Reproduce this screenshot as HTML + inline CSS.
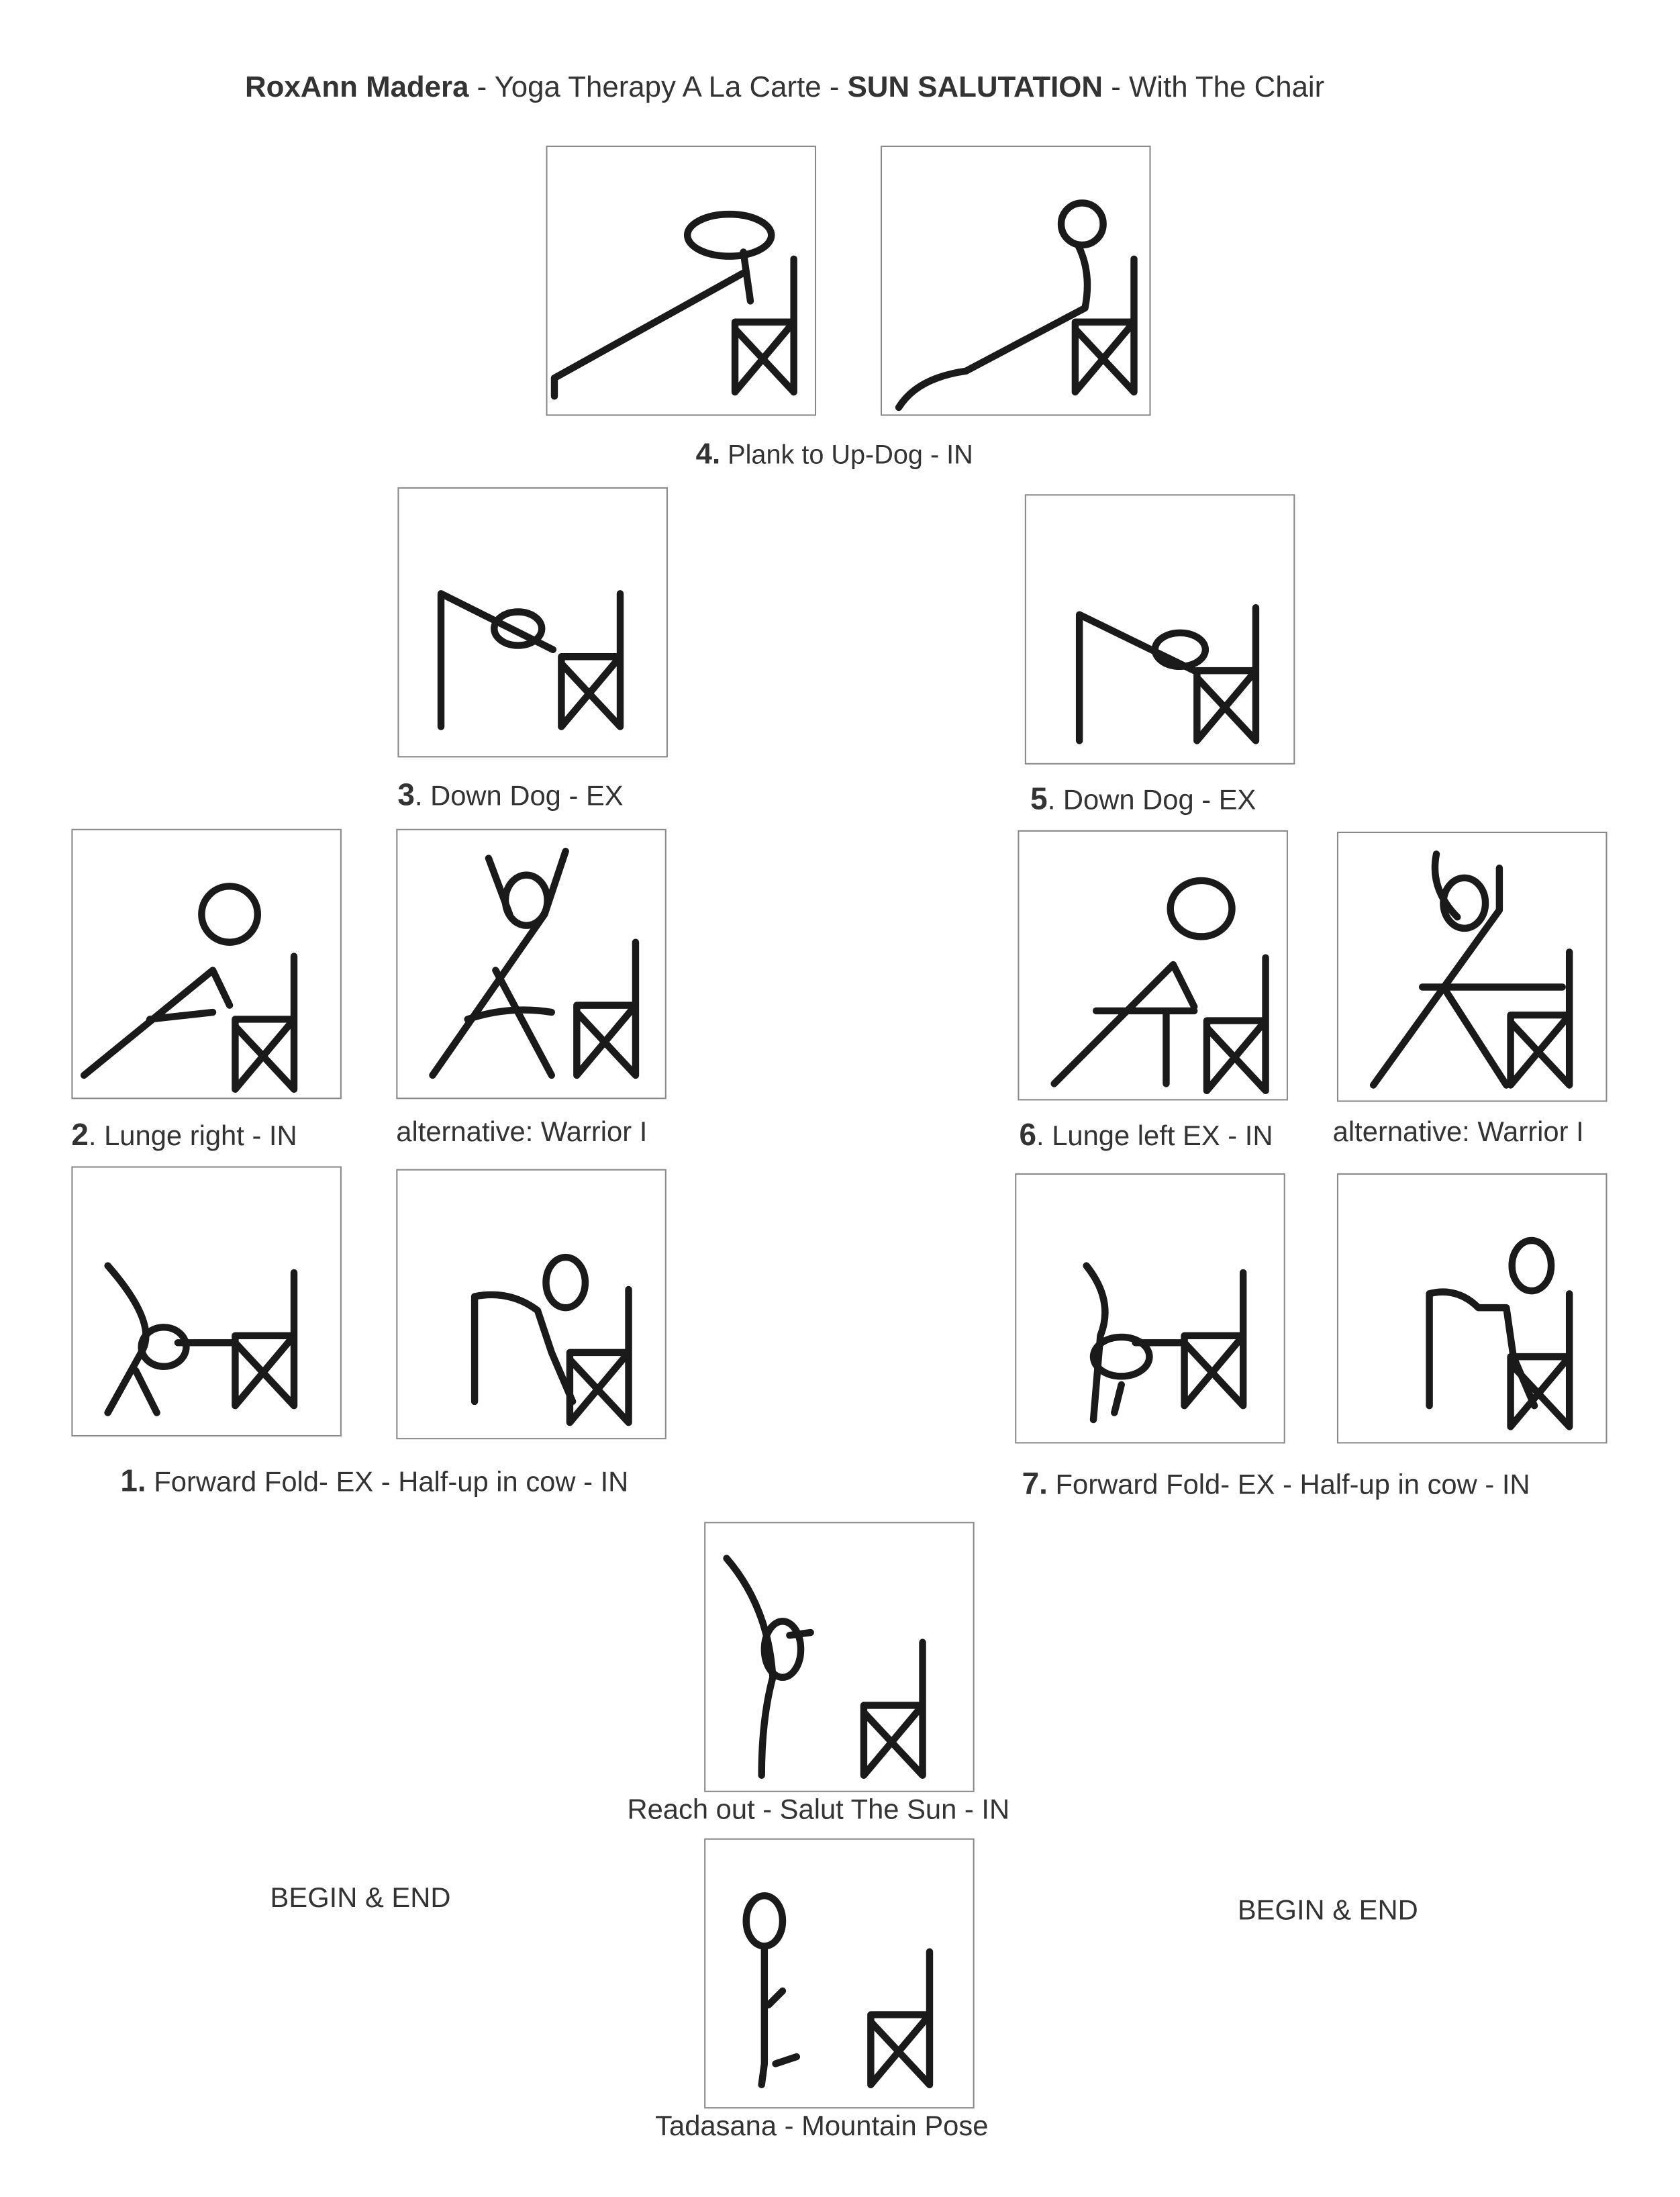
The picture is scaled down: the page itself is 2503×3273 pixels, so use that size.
<!DOCTYPE html>
<html><head><meta charset="utf-8"><style>
html,body{margin:0;padding:0;background:#fff;}
#w{width:1200px;height:1569px;position:relative;transform:scale(2.0858);transform-origin:0 0;font-family:"Liberation Sans",Arial,sans-serif;color:#333;}
.b{position:absolute;width:193px;height:193px;border:1.5px solid #8a8a8a;box-sizing:border-box;}
.b svg{width:100%;height:100%;}
.l{position:absolute;font-size:20px;white-space:nowrap;color:#333;}
.l b{font-weight:bold;font-size:22px;}
svg path,svg line,svg ellipse,svg circle{fill:none;stroke:#1a1a1a;stroke-width:5;stroke-linecap:round;stroke-linejoin:round;}
</style></head><body><div id="w">
<svg width="0" height="0" style="position:absolute"><defs>
<g id="ch"><path d="M0 0 V95 M-42 45 H0 M-42 45 V95 M-42 95 L0 45 M-42 50 L0 95"/></g>
</defs></svg>

<div class="l" style="left:175px;top:51px;font-size:21px"><b style="font-size:21px">RoxAnn Madera</b> - Yoga Therapy A La Carte - <b style="font-size:21px">SUN SALUTATION</b> - With The Chair</div>

<div class="b" style="left:390px;top:104px"><svg viewBox="0 0 191 191"><use href="#ch" x="176" y="80"/><ellipse cx="130" cy="63" rx="30" ry="15"/><path d="M5 178 V165 L140 90 M140 75 L145 110"/></svg></div>
<div class="b" style="left:629px;top:104px"><svg viewBox="0 0 191 191"><use href="#ch" x="180" y="80"/><circle cx="143" cy="55" r="15"/><path d="M12 186 Q25 165 60 160 L145 115 Q150 90 140 70"/></svg></div>
<div class="l" style="left:497px;top:313px;font-size:19px"><b style="font-size:21px">4.</b> Plank to Up-Dog - IN</div>

<div class="b" style="left:284px;top:348px"><svg viewBox="0 0 191 191"><use href="#ch" x="158" y="75"/><path d="M30 170 V75 L110 115"/><ellipse cx="85" cy="100" rx="17" ry="12"/></svg></div>
<div class="l" style="left:284px;top:555px"><b>3</b>. Down Dog - EX</div>
<div class="b" style="left:732px;top:353px"><svg viewBox="0 0 191 191"><use href="#ch" x="164" y="80"/><path d="M38 175 V85 L120 125"/><ellipse cx="110" cy="110" rx="18" ry="12"/></svg></div>
<div class="l" style="left:736px;top:558px"><b>5</b>. Down Dog - EX</div>

<div class="b" style="left:51px;top:592px"><svg viewBox="0 0 191 191"><use href="#ch" x="158" y="90"/><circle cx="112" cy="60" r="20"/><path d="M8 175 L100 100 L112 125 M55 135 L100 130"/></svg></div>
<div class="l" style="left:51px;top:798px"><b>2</b>. Lunge right - IN</div>
<div class="b" style="left:283px;top:592px"><svg viewBox="0 0 191 191"><use href="#ch" x="170" y="80"/><ellipse cx="92" cy="50" rx="15" ry="18"/><path d="M65 20 L80 60 M120 15 L105 60 L25 175 M70 100 L110 175 M50 135 Q80 125 110 130"/></svg></div>
<div class="l" style="left:283px;top:798px">alternative: Warrior I</div>
<div class="b" style="left:727px;top:593px"><svg viewBox="0 0 191 191"><use href="#ch" x="176" y="90"/><ellipse cx="130" cy="55" rx="22" ry="20"/><path d="M25 180 L110 95 L125 125 M55 128 L125 128 M105 130 V180"/></svg></div>
<div class="l" style="left:728px;top:798px"><b>6</b>. Lunge left EX - IN</div>
<div class="b" style="left:955px;top:594px"><svg viewBox="0 0 191 191"><use href="#ch" x="165" y="85"/><ellipse cx="90" cy="50" rx="15" ry="18"/><path d="M70 15 Q65 40 85 60 M115 25 V55 L25 180 M75 110 L120 180 M60 110 H160"/></svg></div>
<div class="l" style="left:952px;top:798px">alternative: Warrior I</div>

<div class="b" style="left:51px;top:833px"><svg viewBox="0 0 191 191"><use href="#ch" x="158" y="75"/><path d="M25 70 Q60 110 50 130 L25 175 M45 145 L60 175 M75 125 H116"/><ellipse cx="65" cy="128" rx="16" ry="14"/></svg></div>
<div class="b" style="left:283px;top:835px"><svg viewBox="0 0 191 191"><use href="#ch" x="165" y="85"/><ellipse cx="120" cy="80" rx="14" ry="18"/><path d="M55 165 V90 Q80 85 100 100 L110 130 L125 165"/></svg></div>
<div class="l" style="left:86px;top:1045px"><b>1.</b> Forward Fold- EX - Half-up in cow - IN</div>
<div class="b" style="left:725px;top:838px"><svg viewBox="0 0 191 191"><use href="#ch" x="162" y="70"/><path d="M50 65 Q70 90 60 115 L55 175 M75 150 L70 170 M85 120 H120"/><ellipse cx="75" cy="130" rx="20" ry="14"/></svg></div>
<div class="b" style="left:955px;top:838px"><svg viewBox="0 0 191 191"><use href="#ch" x="165" y="85"/><ellipse cx="138" cy="65" rx="14" ry="18"/><path d="M65 165 V85 Q85 80 100 95 L120 95 L125 130 L140 165"/></svg></div>
<div class="l" style="left:730px;top:1047px"><b>7.</b> Forward Fold- EX - Half-up in cow - IN</div>

<div class="b" style="left:503px;top:1087px"><svg viewBox="0 0 191 191"><use href="#ch" x="155" y="85"/><ellipse cx="55" cy="90" rx="13" ry="20"/><path d="M15 25 Q45 60 48 110 Q40 140 40 180 M60 80 L75 78"/></svg></div>
<div class="l" style="left:448px;top:1282px">Reach out - Salut The Sun - IN</div>
<div class="b" style="left:503px;top:1313px"><svg viewBox="0 0 191 191"><use href="#ch" x="160" y="80"/><ellipse cx="42" cy="58" rx="13" ry="18"/><path d="M42 78 V160 M45 118 L55 108 M50 160 L65 155 M40 175 L42 160"/></svg></div>
<div class="l" style="left:468px;top:1508px">Tadasana - Mountain Pose</div>

<div class="l" style="left:193px;top:1345px">BEGIN &amp; END</div>
<div class="l" style="left:884px;top:1354px">BEGIN &amp; END</div>
</div></body></html>
